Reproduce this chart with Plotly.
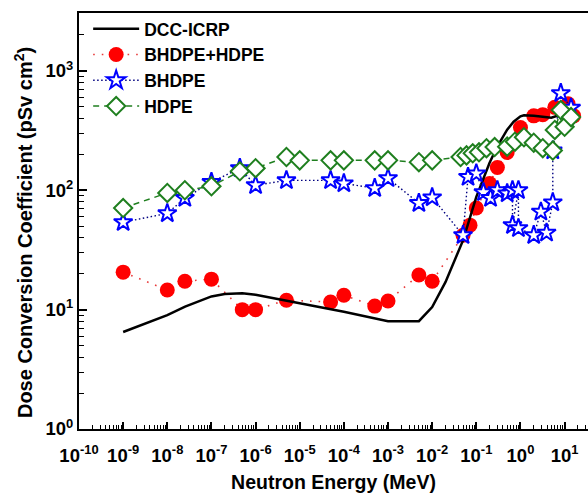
import plotly.graph_objects as go

# ---- data ----
dcc_energy = [1e-9, 1e-8, 2.53e-8, 1e-7, 2e-7, 5e-7, 1e-6, 1e-5, 1e-4, 1e-3, 5e-3, 1e-2, 2e-2,
              5e-2, 0.1, 0.2, 0.3, 0.5, 0.7, 1.0, 1.2, 2.0, 5.0, 10.0, 14.0]
dcc_value = [6.5, 9.0, 10.6, 12.9, 13.5, 13.7, 13.3, 11.3, 9.6, 8.0, 8.0, 10.5, 17.0,
             38.0, 88.0, 170.0, 233.0, 322.0, 375.0, 416.0, 425.0, 420.0, 405.0, 440.0, 480.0]

both_energy = [1e-9, 1e-8, 2.5e-8, 1e-7, 5e-7, 1e-6, 5e-6, 5e-5, 1e-4, 5e-4, 1e-3, 5e-3, 1e-2,
               0.05, 0.072, 0.1, 0.2, 0.3, 0.5, 1.0, 2.0, 3.2, 6.0, 12.0, 16.0]
both_value = [20.6, 14.6, 17.3, 18.0, 10.0, 10.0, 12.0, 11.6, 13.2, 10.7, 11.8, 19.5, 17.3,
              42.0, 51.0, 71.0, 114.0, 155.0, 207.0, 335.0, 420.0, 430.0, 495.0, 530.0, 420.0]

bhdpe_energy = [1e-9, 1e-8, 2.5e-8, 1e-7, 4.4e-7, 1e-6, 5e-6, 5e-5, 1e-4, 5e-4, 1e-3, 5e-3, 1e-2,
                0.05, 0.065, 0.1, 0.145, 0.21, 0.3, 0.5, 0.66, 0.66, 0.9, 0.9, 2.0, 2.9, 3.9,
                5.4, 5.4, 8.2, 14.0]
bhdpe_value = [54, 64, 86, 117, 153, 110, 121, 121, 114, 104, 126, 78, 87,
               42, 129, 138, 96, 86, 100, 94, 100, 51, 100, 48, 42, 66, 44,
               79, 215, 650, 490]

hdpe_energy = [1e-9, 1e-8, 2.5e-8, 1e-7, 4.4e-7, 1e-6, 5e-6, 1e-5, 5e-5, 1e-4, 5e-4, 1e-3, 5e-3,
               1e-2, 0.044, 0.06, 0.083, 0.115, 0.17, 0.26, 0.5, 0.75, 1.2, 2.0, 3.2, 5.4,
               6.0, 8.2, 10.0, 14.0]
hdpe_value = [71, 95, 100, 108, 144, 153, 190, 178, 178, 178, 178, 178, 172,
              178, 190, 196, 204, 208, 225, 230, 232, 255, 278, 250, 225, 215,
              320, 470, 340, 410]

x_tick_vals = [1e-10, 1e-9, 1e-8, 1e-7, 1e-6, 1e-5, 1e-4, 1e-3, 1e-2, 1e-1, 1e0, 1e1]
x_tick_text = ["10<sup>-10</sup>", "10<sup>-9</sup>", "10<sup>-8</sup>", "10<sup>-7</sup>",
               "10<sup>-6</sup>", "10<sup>-5</sup>", "10<sup>-4</sup>", "10<sup>-3</sup>",
               "10<sup>-2</sup>", "10<sup>-1</sup>", "10<sup>0</sup>", "10<sup>1</sup>"]
y_tick_vals = [1, 10, 100, 1000]
y_tick_text = ["10<sup>0</sup>", "10<sup>1</sup>", "10<sup>2</sup>", "10<sup>3</sup>"]

x_title = "Neutron Energy (MeV)"
y_title = "Dose Conversion Coefficient (pSv cm<sup>2</sup>)"

FONT = "Liberation Sans, Arial, sans-serif"

fig = go.Figure()

fig.add_trace(go.Scatter(
    x=both_energy, y=both_value, mode="lines+markers", name="BHDPE+HDPE",
    line=dict(color="#e83a3a", width=1.6, dash="1.6px,7px"),
    marker=dict(symbol="circle", size=15, color="#ff0000", line=dict(width=0)),
    legendrank=2))

fig.add_trace(go.Scatter(
    x=dcc_energy, y=dcc_value, mode="lines", name="DCC-ICRP",
    line=dict(color="black", width=2.5), legendrank=1))

fig.add_trace(go.Scatter(
    x=bhdpe_energy, y=bhdpe_value, mode="lines+markers", name="BHDPE",
    line=dict(color="#000080", width=1.4, dash="1.5px,2.5px"),
    marker=dict(symbol="star", size=14, color="white", line=dict(color="#0000ff", width=2)),
    legendrank=3))

fig.add_trace(go.Scatter(
    x=hdpe_energy, y=hdpe_value, mode="lines+markers", name="HDPE",
    line=dict(color="#1f7f1f", width=1.5, dash="6px,5px"),
    marker=dict(symbol="diamond", size=14, color="white", line=dict(color="#1f7f1f", width=2)),
    legendrank=4))

fig.update_layout(
    width=588, height=493,
    margin=dict(l=79, r=0, t=13, b=64),
    paper_bgcolor="white", plot_bgcolor="white",
    font=dict(family=FONT, color="black", size=18, weight="bold"),
    showlegend=True,
    legend=dict(x=0.018, y=1.005, xanchor="left", yanchor="top",
                bgcolor="rgba(0,0,0,0)", borderwidth=0,
                font=dict(family=FONT, size=17.5, weight="bold", color="black"),
                itemwidth=46, traceorder="normal"),
    annotations=[dict(
        text=y_title, textangle=-90, showarrow=False,
        xref="paper", yref="paper", x=0, y=0.471, xanchor="center", yanchor="middle",
        xshift=-56, font=dict(family=FONT, size=20, weight="bold", color="black"))],
)

fig.update_xaxes(
    type="log", range=[-10, 1.53],
    showline=True, linecolor="black", linewidth=2, mirror=True,
    ticks="inside", ticklen=7, tickwidth=1.5, tickcolor="black",
    tickvals=x_tick_vals, ticktext=x_tick_text, ticklabelstandoff=9,
    tickfont=dict(family=FONT, size=18.5, weight="bold"),
    minor=dict(ticks="inside", ticklen=4, tickwidth=1, tickcolor="black", dtick="D1", showgrid=False),
    showgrid=False, zeroline=False,
    title=dict(text=x_title, standoff=12,
               font=dict(family=FONT, size=19.5, weight="bold")),
)

fig.update_yaxes(
    type="log", range=[0, 3.485],
    showline=True, linecolor="black", linewidth=2, mirror=False,
    ticks="inside", ticklen=8, tickwidth=1.5, tickcolor="black",
    tickvals=y_tick_vals, ticktext=y_tick_text,
    tickfont=dict(family=FONT, size=18.5, weight="bold"),
    minor=dict(ticks="inside", ticklen=5, tickwidth=1, tickcolor="black", dtick="D1", showgrid=False),
    showgrid=False, zeroline=False,
)

fig.write_html("out.html")
